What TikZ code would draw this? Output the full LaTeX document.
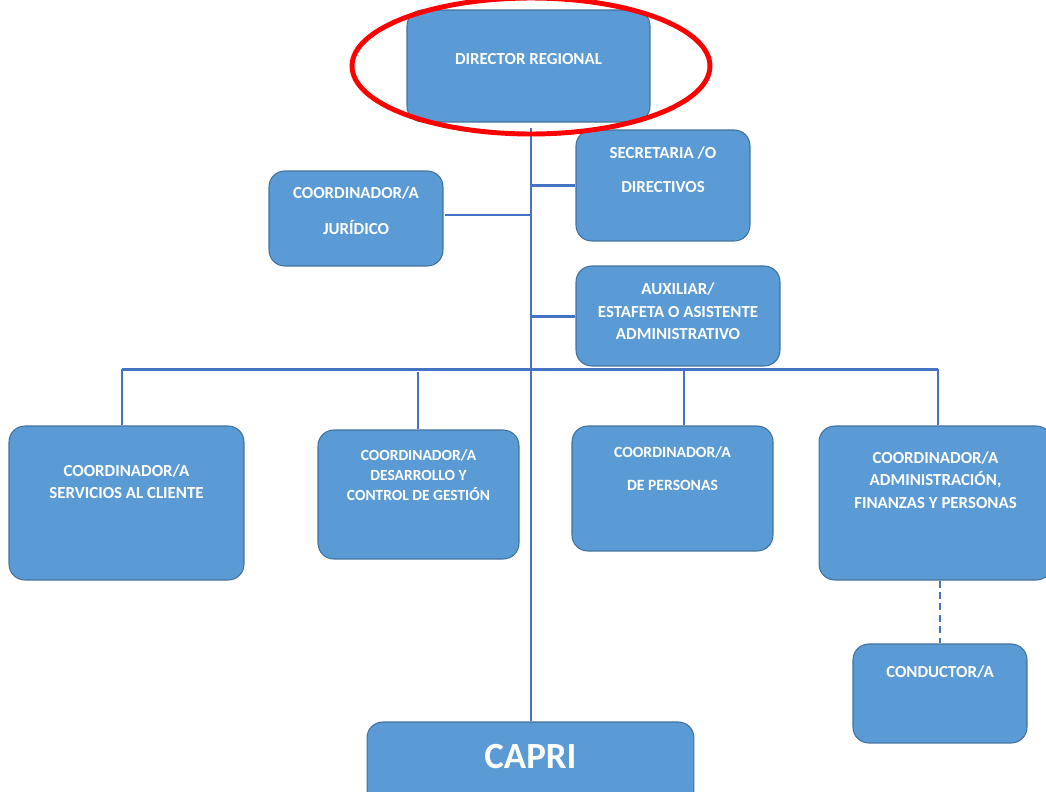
\documentclass[tikz,border=0pt]{standalone}
\usepackage{fontspec}
\setmainfont{Carlito}
\definecolor{boxfill}{HTML}{5B9BD5}
\definecolor{boxedge}{HTML}{41719C}
\definecolor{linkblue}{HTML}{4472C4}
\begin{document}
\begin{tikzpicture}
[x=0.02cm,y=-0.02cm,
  boxdecorate/.style={shape=rectangle,rounded corners=9pt,draw=boxedge,line width=0.6pt,fill=boxfill,inner sep=0pt},%
  textdecorate/.style={text=white,align=center,inner sep=0pt,font=\fontsize{9.6}{#1}\selectfont\bfseries},%
  textdecorate/.default=12.5pt,%
  linedecorate/.style={draw=linkblue,line width=1.7pt}]
\useasboundingbox (0,0) rectangle (1046,792);
% boxes
\node (dir) at (528.5,66) [boxdecorate,minimum width=4.86cm,minimum height=2.24cm] {};
\node (sec) at (663,185.5) [boxdecorate,minimum width=3.48cm,minimum height=2.22cm] {};
\node (jur) at (356,218.5) [boxdecorate,minimum width=3.48cm,minimum height=1.9cm] {};
\node (aux) at (678,316) [boxdecorate,minimum width=4.08cm,minimum height=2cm] {};
\node (sc) at (126.5,503) [boxdecorate,minimum width=4.7cm,minimum height=3.08cm] {};
\node (dcg) at (418.5,494.5) [boxdecorate,minimum width=4.02cm,minimum height=2.58cm] {};
\node (per) at (672.5,488.5) [boxdecorate,minimum width=4.02cm,minimum height=2.5cm] {};
\node (afp) at (935.5,503) [boxdecorate,minimum width=4.66cm,minimum height=3.08cm] {};
\node (con) at (940,693.5) [boxdecorate,minimum width=3.48cm,minimum height=1.98cm] {};
\node (capri) at (530.5,763.5) [boxdecorate,minimum width=6.54cm,minimum height=1.66cm] {};
% texts
\node (dirtxt) at (528.5,59) [textdecorate] {DIRECTOR REGIONAL};
\node (sectxt) at (663,170) [textdecorate=19.3pt] {SECRETARIA /O\\DIRECTIVOS};
\node (jurtxt) at (356,211) [textdecorate=20.4pt] {COORDINADOR/A\\JURÍDICO};
\node (auxtxt) at (678,311.5) [textdecorate=12.8pt] {AUXILIAR/\\ESTAFETA O ASISTENTE\\ADMINISTRATIVO};
\node (sctxt) at (126.5,482) [textdecorate] {COORDINADOR/A\\SERVICIOS AL CLIENTE};
\node (dcgtxt) at (418.5,475) [textdecorate=11.3pt,font=\fontsize{8.8}{11.3pt}\selectfont\bfseries] {COORDINADOR/A\\DESARROLLO Y\\CONTROL DE GESTIÓN};
\node (pertxt) at (672.5,468.5) [textdecorate=18.7pt,font=\fontsize{8.9}{18.7pt}\selectfont\bfseries] {COORDINADOR/A\\DE PERSONAS};
\node (afptxt) at (935.5,480) [textdecorate=13pt] {COORDINADOR/A\\ADMINISTRACIÓN,\\FINANZAS Y PERSONAS};
\node (contxt) at (940,672) [textdecorate] {CONDUCTOR/A};
\node (capritxt) at (530.5,757) [textdecorate,font=\fontsize{21}{25}\selectfont\bfseries] {CAPRI};
% lines
\coordinate (top) at (531,128);
\coordinate (jurend) at (445,215);
\coordinate (d1) at (122,369);
\coordinate (d2) at (418,372);
\coordinate (d3) at (684,369);
\coordinate (d4) at (938,369);
\draw[linedecorate] (top) -- (top |- capri.north);
\draw[linedecorate] (sec.west) -- (sec.west -| top);
\draw[linedecorate] (jurend) -- (jurend -| top);
\draw[linedecorate] (aux.west) -- (aux.west -| top);
\draw[linedecorate] (d1) -- (d4);
\draw[linedecorate] (d1) -- (d1 |- sc.north);
\draw[linedecorate] (d2) -- (d2 |- dcg.north);
\draw[linedecorate] (d3) -- (d3 |- per.north);
\draw[linedecorate] (d4) -- (d4 |- afp.north);
\draw[linedecorate,dash pattern=on 4pt off 2.5pt] (con.north |- afp.south) -- (con.north);
% mark
\draw[red,line width=2.8pt] (531,66) ellipse [x radius=3.58cm,y radius=1.36cm];
\end{tikzpicture}
\end{document}
